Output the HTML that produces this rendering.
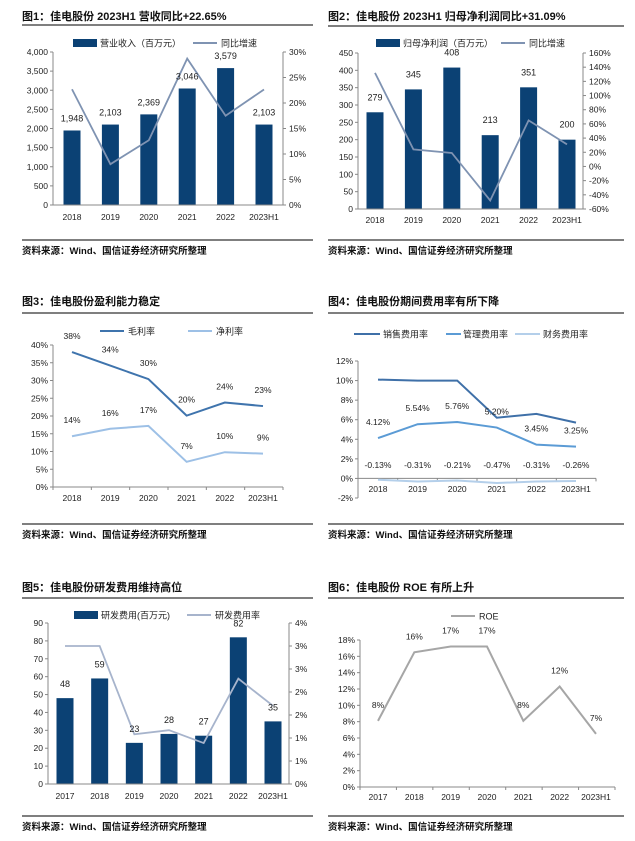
<!DOCTYPE html>
<html><head><meta charset="utf-8">
<style>
body{margin:0;background:#fff;}
svg{display:block;font-family:"Liberation Sans","Noto Sans CJK SC",sans-serif;}
</style></head>
<body>
<svg id="s" width="635" height="841" viewBox="0 0 635 841"></svg>
<script>
// ---- data ----
const c1Cats=["2018","2019","2020","2021","2022","2023H1"];
const c1Rev=[1948,2103,2369,3046,3579,2103];
const c1RevLabels=["1,948","2,103","2,369","3,046","3,579","2,103"];
const c1Growth=[22.7,8.0,12.7,28.7,17.5,22.65];
const c1LeftTicks=["0","500","1,000","1,500","2,000","2,500","3,000","3,500","4,000"];
const c1RightTicks=["0%","5%","10%","15%","20%","25%","30%"];

const c2Cats=["2018","2019","2020","2021","2022","2023H1"];
const c2Profit=[279,345,408,213,351,200];
const c2Growth=[132,24,19,-48,65,31.09];
const c2LeftTicks=["0","50","100","150","200","250","300","350","400","450"];
const c2RightTicks=["-60%","-40%","-20%","0%","20%","40%","60%","80%","100%","120%","140%","160%"];

const c3Cats=["2018","2019","2020","2021","2022","2023H1"];
const c3Gross=[38.0,34.2,30.4,20.1,23.8,22.8];
const c3GrossLabels=["38%","34%","30%","20%","24%","23%"];
const c3Net=[14.3,16.4,17.2,7.1,9.8,9.4];
const c3NetLabels=["14%","16%","17%","7%","10%","9%"];
const c3Ticks=["0%","5%","10%","15%","20%","25%","30%","35%","40%"];

const c4Cats=["2018","2019","2020","2021","2022","2023H1"];
const c4Sales=[10.1,10.0,10.0,6.2,6.6,5.7];
const c4Mgmt=[4.12,5.54,5.76,5.20,3.45,3.25];
const c4MgmtLabels=["4.12%","5.54%","5.76%","5.20%","3.45%","3.25%"];
const c4Fin=[-0.13,-0.31,-0.21,-0.47,-0.31,-0.26];
const c4FinLabels=["-0.13%","-0.31%","-0.21%","-0.47%","-0.31%","-0.26%"];
const c4Ticks=["-2%","0%","2%","4%","6%","8%","10%","12%"];

const c5Cats=["2017","2018","2019","2020","2021","2022","2023H1"];
const c5RD=[48,59,23,28,27,82,35];
const c5Rate=[3.0,3.0,1.08,1.17,0.89,2.29,1.70];
const c5LeftTicks=["0","10","20","30","40","50","60","70","80","90"];
const c5RightTicks=["0%","1%","1%","2%","2%","3%","3%","4%"];

const c6Cats=["2017","2018","2019","2020","2021","2022","2023H1"];
const c6ROE=[8.1,16.5,17.2,17.2,8.1,12.3,6.5];
const c6Labels=["8%","16%","17%","17%","8%","12%","7%"];
const c6Ticks=["0%","2%","4%","6%","8%","10%","12%","14%","16%","18%"];

// ---- helpers ----
const S=document.getElementById('s');
const NS="http://www.w3.org/2000/svg";
function mk(tag,attrs,parent){const e=document.createElementNS(NS,tag);for(const k in attrs)e.setAttribute(k,attrs[k]);(parent||S).appendChild(e);return e;}
function txt(x,y,t,size,anchor,parent,weight,fill){const e=mk('text',{x:x,y:y,'font-size':size,'text-anchor':anchor||'middle',fill:fill||'#222','font-weight':weight||'normal'},parent);e.textContent=t;return e;}
function lin(d0,d1,p0,p1){return v=>p0+(v-d0)/(d1-d0)*(p1-p0);}
function catX(n,x0,x1){return i=>x0+i*(x1-x0)/(n-1);}
const BAR="#0b4174";

function panel(name,x0,x1,titleY,title,ruleTop,ruleBot){
  const g=mk('g',{});
  
  
  const t=txt(x0,titleY,title,11,'start',g,'bold','#111');
  
  mk('line',{x1:x0,x2:x1,y1:ruleTop,y2:ruleTop,stroke:'#333','stroke-width':1.2},g);
  mk('line',{x1:x0,x2:x1,y1:ruleBot,y2:ruleBot,stroke:'#333','stroke-width':1.2},g);
  const s=txt(x0,ruleBot+14,'资料来源：Wind、国信证券经济研究所整理',9.5,'start',g,'bold','#111');
  
  return g;
}
function yAxis(g,x,yb,yt,ticks,side){
  mk('line',{x1:x,x2:x,y1:yb,y2:yt,stroke:'#888'},g);
  const n=ticks.length;
  ticks.forEach((t,i)=>{const y=yb+(yt-yb)*i/(n-1);
    mk('line',{x1:side==='l'?x-3:x,x2:side==='l'?x:x+3,y1:y,y2:y,stroke:'#888'},g);
    txt(side==='l'?x-5:x+6,y+3,t,8.5,side==='l'?'end':'start',g);
  });
}
function xAxis(g,x0,x1,y,cats,cx,ly,ticks){
  mk('line',{x1:x0,x2:x1,y1:y,y2:y,stroke:'#888'},g);
  const step=(x1-x0)/cats.length;
  if(ticks) for(let i=0;i<=cats.length;i++) mk('line',{x1:x0+i*step,x2:x0+i*step,y1:y,y2:y+3,stroke:'#888'},g);
  cats.forEach((c,i)=>txt(cx(i),ly,c,8.5,'middle',g));
}
function poly(g,vals,cx,sy,color,w,name){
  const p=mk('polyline',{points:vals.map((v,i)=>cx(i)+','+sy(v)).join(' '),fill:'none',stroke:color,'stroke-width':w},g);
  
  
}
function bars(g,vals,cx,sy,y0,w,name){
  vals.forEach((v,i)=>{const r=mk('rect',{x:cx(i)-w/2,y:sy(v),width:w,height:y0-sy(v),fill:BAR},g);
    
    });
}
function legBar(g,x,y,label){const r=mk('rect',{x:x,y:y-4,width:24,height:8,fill:BAR},g);txt(x+27,y+3.5,label,9,'start',g);}
function legLine(g,x,y,label,color,len,gap){len=len||24;gap=gap||4;const l=mk('line',{x1:x,x2:x+len,y1:y,y2:y,stroke:color,'stroke-width':2},g);txt(x+len+gap,y+3.5,label,9,'start',g);}

// ---- chart 1 ----
(function(){
  const g=panel('chart-1-revenue',22,313,20,'图1：佳电股份 2023H1 营收同比+22.65%',25,240);
  const y0=205,yt=52,sy=lin(0,4000,y0,yt),sr=lin(0,30,y0,yt),cx=catX(6,72,264);
  yAxis(g,53,y0,yt,c1LeftTicks,'l');yAxis(g,283,y0,yt,c1RightTicks,'r');
  bars(g,c1Rev,cx,sy,y0,17,'revenue-bar');
  xAxis(g,53,283,y0,c1Cats,cx,220,false);
  poly(g,c1Growth,cx,sr,'#7f93b2',1.8,'revenue-growth-line');
  c1Rev.forEach((v,i)=>txt(cx(i),sy(v)-9,c1RevLabels[i],9,'middle',g));
  legBar(g,73,43,'营业收入（百万元）');legLine(g,193,43,'同比增速','#7f93b2');
})();
// ---- chart 2 ----
(function(){
  const g=panel('chart-2-net-profit',328,624,20,'图2：佳电股份 2023H1 归母净利润同比+31.09%',26,240);
  const y0=209,yt=53,sy=lin(0,450,y0,yt),sr=lin(-60,160,y0,yt),cx=catX(6,375,567);
  yAxis(g,358,y0,yt,c2LeftTicks,'l');yAxis(g,583,y0,yt,c2RightTicks,'r');
  bars(g,c2Profit,cx,sy,y0,17,'profit-bar');
  xAxis(g,358,583,y0,c2Cats,cx,223,false);
  poly(g,c2Growth,cx,sr,'#7f93b2',1.8,'profit-growth-line');
  c2Profit.forEach((v,i)=>txt(cx(i),sy(v)-12,String(v),9,'middle',g));
  legBar(g,376,43,'归母净利润（百万元）');legLine(g,501,43,'同比增速','#7f93b2');
})();
// ---- chart 3 ----
(function(){
  const g=panel('chart-3-margins',22,313,305,'图3：佳电股份盈利能力稳定',313,524);
  const y0=487,yt=345,sy=lin(0,40,y0,yt),cx=catX(6,72,263);
  yAxis(g,53,y0,yt,c3Ticks,'l');
  xAxis(g,53,283,y0,c3Cats,cx,501,true);
  poly(g,c3Gross,cx,sy,'#3f74ad',2,'gross-margin-line');
  poly(g,c3Net,cx,sy,'#9dc0e6',2,'net-margin-line');
  c3Gross.forEach((v,i)=>txt(cx(i),sy(v)-13,c3GrossLabels[i],8.5,'middle',g));
  c3Net.forEach((v,i)=>txt(cx(i),sy(v)-13,c3NetLabels[i],8.5,'middle',g));
  legLine(g,100,331,'毛利率','#3f74ad');legLine(g,188,331,'净利率','#9dc0e6');
})();
// ---- chart 4 ----
(function(){
  const g=panel('chart-4-expense-ratios',328,624,305,'图4：佳电股份期间费用率有所下降',313,524);
  const yb=498,yt=361,sy=lin(-2,12,yb,yt),cx=catX(6,378,576);
  yAxis(g,358,yb,yt,c4Ticks,'l');
  xAxis(g,358,596,sy(0),c4Cats,cx,492,true);
  poly(g,c4Sales,cx,sy,'#3f70a8',2,'sales-expense-line');
  poly(g,c4Mgmt,cx,sy,'#5b9bd5',2,'admin-expense-line');
  poly(g,c4Fin,cx,sy,'#b4cfea',2,'finance-expense-line');
  c4Mgmt.forEach((v,i)=>txt(cx(i),sy(v)-13,c4MgmtLabels[i],8.5,'middle',g));
  c4Fin.forEach((v,i)=>txt(cx(i),468,c4FinLabels[i],8.5,'middle',g));
  legLine(g,354,334,'销售费用率','#3f70a8',26,3);legLine(g,446,334,'管理费用率','#5b9bd5',15,2);legLine(g,515,334,'财务费用率','#b4cfea',25,3);
})();
// ---- chart 5 ----
(function(){
  const g=panel('chart-5-rnd',22,313,591,'图5：佳电股份研发费用维持高位',598,816);
  const y0=784,yt=623,sy=lin(0,90,y0,yt),sr=lin(0,3.5,y0,yt),cx=catX(7,65,273);
  yAxis(g,48,y0,yt,c5LeftTicks,'l');yAxis(g,289,y0,yt,c5RightTicks,'r');
  bars(g,c5RD,cx,sy,y0,17,'rnd-bar');
  xAxis(g,48,289,y0,c5Cats,cx,799,false);
  poly(g,c5Rate,cx,sr,'#a7b4cc',1.8,'rnd-rate-line');
  c5RD.forEach((v,i)=>txt(cx(i),sy(v)-11,String(v),9,'middle',g));
  legBar(g,74,615,'研发费用(百万元)');legLine(g,187,615,'研发费用率','#a7b4cc');
})();
// ---- chart 6 ----
(function(){
  const g=panel('chart-6-roe',328,624,591,'图6：佳电股份 ROE 有所上升',598,816);
  const y0=787,yt=640,sy=lin(0,18,y0,yt),cx=catX(7,378,596);
  yAxis(g,360,y0,yt,c6Ticks,'l');
  xAxis(g,360,615,y0,c6Cats,cx,800,true);
  poly(g,c6ROE,cx,sy,'#a6a6a6',2,'roe-line');
  c6ROE.forEach((v,i)=>txt(cx(i),sy(v)-13,c6Labels[i],8.5,'middle',g));
  legLine(g,451,616,'ROE','#a6a6a6');
})();
</script>
</body></html>
